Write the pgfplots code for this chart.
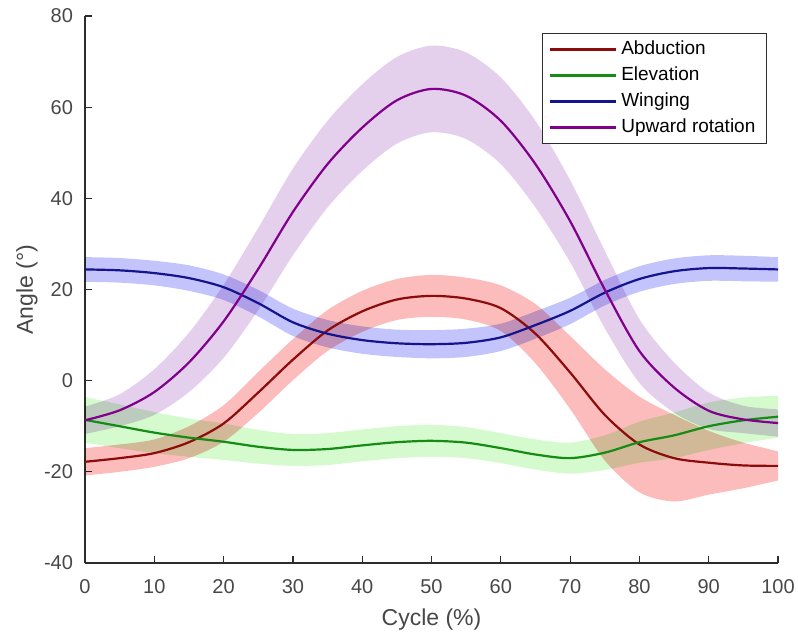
\documentclass[border=0pt]{standalone}
\usepackage{fontspec}
\setmainfont{Liberation Sans}
\usepackage{pgfplots}
\pgfplotsset{compat=1.18}
\usepackage{pgfplotstable}
\usepgfplotslibrary{fillbetween}

\definecolor{abdline}{RGB}{140,12,12}
\definecolor{eleline}{RGB}{22,140,22}
\definecolor{wngline}{RGB}{20,20,140}
\definecolor{uprline}{RGB}{128,0,140}
\definecolor{abdband}{RGB}{252,188,188}
\definecolor{eleband}{RGB}{212,250,206}
\definecolor{wngband}{RGB}{196,196,252}
\definecolor{uprband}{RGB}{228,208,236}
\definecolor{axgray}{RGB}{45,45,45}

% x, mean, mean-sd, mean+sd
\pgfplotstableread{
x   m      lo     hi
0   -17.8  -20.8  -14.8
5   -17.0  -20.0  -14.0
10  -15.9  -18.9  -12.9
15  -13.5  -17.0  -10.0
20  -9.4   -13.4  -5.4
25  -2.6   -7.1   1.9
30  4.6    0.1    9.1
35  11.0   6.5    15.5
40  15.2   10.7   19.7
45  17.8   13.3   22.3
50  18.6   14.0   23.2
55  18.0   13.4   22.6
60  15.9   10.9   20.9
65  10.3   3.8    16.8
70  1.8    -6.2   9.8
75  -7.5   -17.5  2.5
80  -14.0  -24.5  -3.5
85  -17.0  -26.5  -7.5
90  -18.0  -25.0  -11.0
95  -18.6  -23.6  -13.6
100 -18.7  -21.9  -15.5
}\abd

\pgfplotstableread{
x   m      lo     hi
0   -8.6   -13.6  -3.6
5   -10.0  -14.8  -5.2
10  -11.4  -15.9  -6.9
15  -12.5  -16.7  -8.3
20  -13.4  -17.4  -9.4
25  -14.5  -18.2  -10.8
30  -15.2  -18.7  -11.7
35  -15.0  -18.5  -11.5
40  -14.2  -17.7  -10.7
45  -13.5  -17.0  -10.0
50  -13.2  -16.7  -9.7
55  -13.6  -17.0  -10.2
60  -14.8  -18.1  -11.5
65  -16.2  -19.5  -12.9
70  -17.0  -20.4  -13.6
75  -15.8  -19.6  -12.0
80  -13.5  -18.0  -9.0
85  -12.0  -17.0  -7.0
90  -10.0  -15.2  -4.8
95  -8.7   -13.7  -3.7
100 -7.9   -12.5  -3.3
}\ele

\pgfplotstableread{
x   m      lo     hi
0   24.4   21.7   27.1
5   24.2   21.5   26.9
10  23.6   20.9   26.3
15  22.5   19.7   25.3
20  20.5   17.7   23.3
25  17.0   14.1   19.9
30  12.8   9.8    15.8
35  10.3   7.3    13.3
40  8.9    5.9    11.9
45  8.2    5.2    11.2
50  8.0    4.9    11.1
55  8.3    5.2    11.4
60  9.5    6.5    12.5
65  12.2   9.2    15.2
70  15.3   12.4   18.2
75  19.3   16.5   22.1
80  22.3   19.5   25.1
85  24.0   21.2   26.8
90  24.7   21.9   27.5
95  24.6   21.8   27.4
100 24.4   21.7   27.1
}\wng

\pgfplotstableread{
x   m      lo     hi
0   -8.7   -11.7  -5.7
5   -6.5   -10.0  -3.0
10  -2.5   -7.5   2.5
15  4.0    -2.5   10.5
20  13.0   5.0    21.0
25  24.5   15.5   33.5
30  37.0   27.5   46.5
35  47.5   38.0   57.0
40  55.5   46.0   65.0
45  61.5   52.0   71.0
50  64.0   54.5   73.5
55  62.5   53.0   72.0
60  57.0   47.5   66.5
65  47.5   38.0   57.0
70  35.0   26.0   44.0
75  20.0   11.5   28.5
80  6.5    -0.5   13.5
85  -1.5   -7.0   4.0
90  -6.6   -10.6  -2.6
95  -8.5   -11.5  -5.5
100 -9.3   -12.3  -6.3
}\upr

\begin{document}
\begin{tikzpicture}
\begin{axis}[
  at={(0pt,0pt)}, anchor=south west,
  scale only axis,
  width=346.5pt, height=273.5pt,
  xmin=0, xmax=100, ymin=-40, ymax=80,
  xtick={0,10,...,100},
  ytick={-40,-20,...,80},
  axis x line*=bottom, axis y line*=left,
  axis line style={-, draw=axgray, line width=0.6pt},
  tick align=inside,
  major tick length=3.5pt,
  tick style={draw=axgray, line width=0.6pt},
  /pgf/number format/assume math mode=true,
  tick label style={font=\fontsize{10}{12}\selectfont, text=black!72},
  xticklabel style={yshift=-4.5pt},
  yticklabel style={xshift=-2.5pt},
  xlabel={Cycle (\%)},
  ylabel={Angle (°)},
  label style={font=\fontsize{11.5}{13}\selectfont, text=black!72},
  xlabel style={at={([yshift=-28.5pt]rel axis cs:0.5,0)}, anchor=center},
  ylabel style={at={([xshift=-29pt]rel axis cs:0,0.5)}, anchor=center},
  legend style={
    at={(rel axis cs:0.984,0.969)}, anchor=north east,
    draw=axgray, line width=0.5pt, fill=white,
    font=\fontsize{9.5}{11}\selectfont,
    inner xsep=3.5pt, inner ysep=1.5pt,
    nodes={text height=7pt, text depth=2pt, inner ysep=2pt, inner xsep=2pt},
    row sep=0pt,
  },
  legend cell align=left,
  legend image code/.code={
    \path (0pt,0pt) -- (33pt,0pt);
    \draw[#1, line width=1pt] (0.5pt,0pt) -- (31pt,0pt);},
]
% spread bands
\addplot[draw=none, forget plot, smooth, name path=ah] table[x=x, y=hi] {\abd};
\addplot[draw=none, forget plot, smooth, name path=al] table[x=x, y=lo] {\abd};
\addplot[draw=none, forget plot, smooth, name path=eh] table[x=x, y=hi] {\ele};
\addplot[draw=none, forget plot, smooth, name path=el] table[x=x, y=lo] {\ele};
\addplot[draw=none, forget plot, smooth, name path=wh] table[x=x, y=hi] {\wng};
\addplot[draw=none, forget plot, smooth, name path=wl] table[x=x, y=lo] {\wng};
\addplot[draw=none, forget plot, smooth, name path=uh] table[x=x, y=hi] {\upr};
\addplot[draw=none, forget plot, smooth, name path=ul] table[x=x, y=lo] {\upr};
\addplot[fill=abdband, draw=none, blend mode=multiply, forget plot] fill between[of=ah and al];
\addplot[fill=eleband, draw=none, blend mode=multiply, forget plot] fill between[of=eh and el];
\addplot[fill=wngband, draw=none, blend mode=multiply, forget plot] fill between[of=wh and wl];
\addplot[fill=uprband, draw=none, blend mode=multiply, forget plot] fill between[of=uh and ul];
% mean curves
\addplot[abdline, line width=1.1pt, smooth] table[x=x, y=m] {\abd};
\addlegendentry{Abduction}
\addplot[eleline, line width=1.1pt, smooth] table[x=x, y=m] {\ele};
\addlegendentry{Elevation}
\addplot[wngline, line width=1.1pt, smooth] table[x=x, y=m] {\wng};
\addlegendentry{Winging}
\addplot[uprline, line width=1.1pt, smooth] table[x=x, y=m] {\upr};
\addlegendentry{Upward rotation}
\end{axis}
\pgfresetboundingbox
\path (-42.5pt,-36.5pt) rectangle (356.5pt,281.5pt);
\end{tikzpicture}
\end{document}
